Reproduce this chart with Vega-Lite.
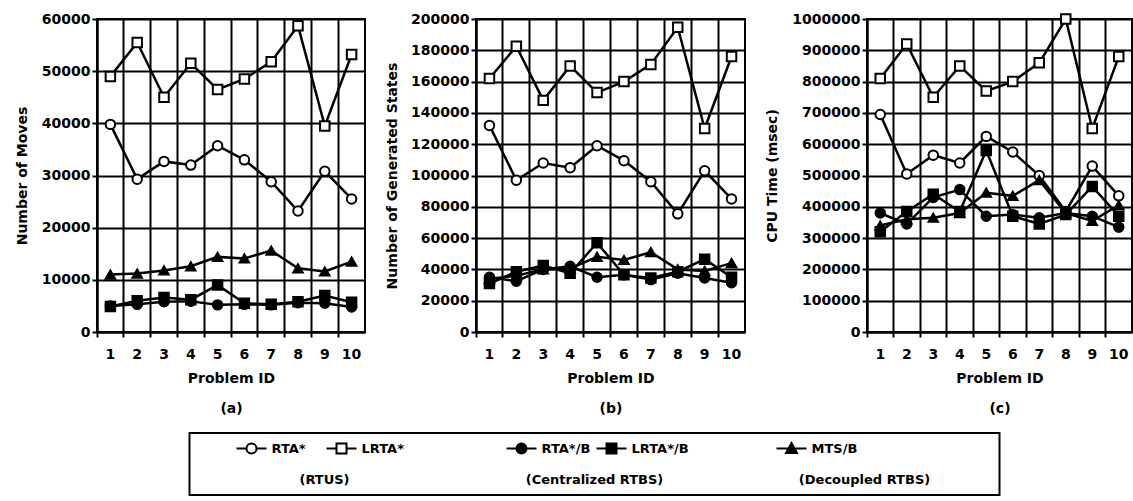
{
  "$schema": "https://vega.github.io/schema/vega-lite/v6.json",
  "padding": {"left": 14, "top": 9, "right": 3, "bottom": 3},
  "background": "white",
  "datasets": {
    "moves": [
      {"a": "RTA*", "p": 1, "v": 39800}, {"a": "RTA*", "p": 2, "v": 29300}, {"a": "RTA*", "p": 3, "v": 32700}, {"a": "RTA*", "p": 4, "v": 32000}, {"a": "RTA*", "p": 5, "v": 35700},
      {"a": "RTA*", "p": 6, "v": 33000}, {"a": "RTA*", "p": 7, "v": 28800}, {"a": "RTA*", "p": 8, "v": 23200}, {"a": "RTA*", "p": 9, "v": 30800}, {"a": "RTA*", "p": 10, "v": 25500},
      {"a": "LRTA*", "p": 1, "v": 49000}, {"a": "LRTA*", "p": 2, "v": 55500}, {"a": "LRTA*", "p": 3, "v": 45000}, {"a": "LRTA*", "p": 4, "v": 51500}, {"a": "LRTA*", "p": 5, "v": 46500},
      {"a": "LRTA*", "p": 6, "v": 48500}, {"a": "LRTA*", "p": 7, "v": 51800}, {"a": "LRTA*", "p": 8, "v": 58700}, {"a": "LRTA*", "p": 9, "v": 39500}, {"a": "LRTA*", "p": 10, "v": 53200},
      {"a": "RTA*/B", "p": 1, "v": 5000}, {"a": "RTA*/B", "p": 2, "v": 5300}, {"a": "RTA*/B", "p": 3, "v": 5800}, {"a": "RTA*/B", "p": 4, "v": 5900}, {"a": "RTA*/B", "p": 5, "v": 5200},
      {"a": "RTA*/B", "p": 6, "v": 5300}, {"a": "RTA*/B", "p": 7, "v": 5200}, {"a": "RTA*/B", "p": 8, "v": 5600}, {"a": "RTA*/B", "p": 9, "v": 5500}, {"a": "RTA*/B", "p": 10, "v": 4800},
      {"a": "LRTA*/B", "p": 1, "v": 4900}, {"a": "LRTA*/B", "p": 2, "v": 6000}, {"a": "LRTA*/B", "p": 3, "v": 6600}, {"a": "LRTA*/B", "p": 4, "v": 6200}, {"a": "LRTA*/B", "p": 5, "v": 9000},
      {"a": "LRTA*/B", "p": 6, "v": 5500}, {"a": "LRTA*/B", "p": 7, "v": 5300}, {"a": "LRTA*/B", "p": 8, "v": 5800}, {"a": "LRTA*/B", "p": 9, "v": 7000}, {"a": "LRTA*/B", "p": 10, "v": 5700},
      {"a": "MTS/B", "p": 1, "v": 11000}, {"a": "MTS/B", "p": 2, "v": 11200}, {"a": "MTS/B", "p": 3, "v": 11800}, {"a": "MTS/B", "p": 4, "v": 12600}, {"a": "MTS/B", "p": 5, "v": 14400},
      {"a": "MTS/B", "p": 6, "v": 14100}, {"a": "MTS/B", "p": 7, "v": 15600}, {"a": "MTS/B", "p": 8, "v": 12200}, {"a": "MTS/B", "p": 9, "v": 11600}, {"a": "MTS/B", "p": 10, "v": 13500}
    ],
    "states": [
      {"a": "RTA*", "p": 1, "v": 132000}, {"a": "RTA*", "p": 2, "v": 97000}, {"a": "RTA*", "p": 3, "v": 108000}, {"a": "RTA*", "p": 4, "v": 105000}, {"a": "RTA*", "p": 5, "v": 119000},
      {"a": "RTA*", "p": 6, "v": 109500}, {"a": "RTA*", "p": 7, "v": 96000}, {"a": "RTA*", "p": 8, "v": 75500}, {"a": "RTA*", "p": 9, "v": 103000}, {"a": "RTA*", "p": 10, "v": 85000},
      {"a": "LRTA*", "p": 1, "v": 162000}, {"a": "LRTA*", "p": 2, "v": 182600}, {"a": "LRTA*", "p": 3, "v": 148000}, {"a": "LRTA*", "p": 4, "v": 170000}, {"a": "LRTA*", "p": 5, "v": 153000},
      {"a": "LRTA*", "p": 6, "v": 160000}, {"a": "LRTA*", "p": 7, "v": 171000}, {"a": "LRTA*", "p": 8, "v": 194700}, {"a": "LRTA*", "p": 9, "v": 130000}, {"a": "LRTA*", "p": 10, "v": 176000},
      {"a": "RTA*/B", "p": 1, "v": 35000}, {"a": "RTA*/B", "p": 2, "v": 32500}, {"a": "RTA*/B", "p": 3, "v": 40000}, {"a": "RTA*/B", "p": 4, "v": 42000}, {"a": "RTA*/B", "p": 5, "v": 35000},
      {"a": "RTA*/B", "p": 6, "v": 36500}, {"a": "RTA*/B", "p": 7, "v": 33500}, {"a": "RTA*/B", "p": 8, "v": 37500}, {"a": "RTA*/B", "p": 9, "v": 34500}, {"a": "RTA*/B", "p": 10, "v": 31500},
      {"a": "LRTA*/B", "p": 1, "v": 31000}, {"a": "LRTA*/B", "p": 2, "v": 38500}, {"a": "LRTA*/B", "p": 3, "v": 42500}, {"a": "LRTA*/B", "p": 4, "v": 37500}, {"a": "LRTA*/B", "p": 5, "v": 57000},
      {"a": "LRTA*/B", "p": 6, "v": 36500}, {"a": "LRTA*/B", "p": 7, "v": 34500}, {"a": "LRTA*/B", "p": 8, "v": 38500}, {"a": "LRTA*/B", "p": 9, "v": 46500}, {"a": "LRTA*/B", "p": 10, "v": 35000},
      {"a": "MTS/B", "p": 1, "v": 34000}, {"a": "MTS/B", "p": 2, "v": 36000}, {"a": "MTS/B", "p": 3, "v": 40000}, {"a": "MTS/B", "p": 4, "v": 40500}, {"a": "MTS/B", "p": 5, "v": 48000},
      {"a": "MTS/B", "p": 6, "v": 46000}, {"a": "MTS/B", "p": 7, "v": 51000}, {"a": "MTS/B", "p": 8, "v": 40000}, {"a": "MTS/B", "p": 9, "v": 39000}, {"a": "MTS/B", "p": 10, "v": 44000}
    ],
    "cpu": [
      {"a": "RTA*", "p": 1, "v": 695000}, {"a": "RTA*", "p": 2, "v": 505000}, {"a": "RTA*", "p": 3, "v": 565000}, {"a": "RTA*", "p": 4, "v": 540000}, {"a": "RTA*", "p": 5, "v": 625000},
      {"a": "RTA*", "p": 6, "v": 575000}, {"a": "RTA*", "p": 7, "v": 500000}, {"a": "RTA*", "p": 8, "v": 385000}, {"a": "RTA*", "p": 9, "v": 530000}, {"a": "RTA*", "p": 10, "v": 435000},
      {"a": "LRTA*", "p": 1, "v": 810000}, {"a": "LRTA*", "p": 2, "v": 920000}, {"a": "LRTA*", "p": 3, "v": 750000}, {"a": "LRTA*", "p": 4, "v": 850000}, {"a": "LRTA*", "p": 5, "v": 770000},
      {"a": "LRTA*", "p": 6, "v": 800000}, {"a": "LRTA*", "p": 7, "v": 860000}, {"a": "LRTA*", "p": 8, "v": 1000000}, {"a": "LRTA*", "p": 9, "v": 650000}, {"a": "LRTA*", "p": 10, "v": 880000},
      {"a": "RTA*/B", "p": 1, "v": 380000}, {"a": "RTA*/B", "p": 2, "v": 345000}, {"a": "RTA*/B", "p": 3, "v": 430000}, {"a": "RTA*/B", "p": 4, "v": 455000}, {"a": "RTA*/B", "p": 5, "v": 370000},
      {"a": "RTA*/B", "p": 6, "v": 375000}, {"a": "RTA*/B", "p": 7, "v": 365000}, {"a": "RTA*/B", "p": 8, "v": 380000}, {"a": "RTA*/B", "p": 9, "v": 370000}, {"a": "RTA*/B", "p": 10, "v": 335000},
      {"a": "LRTA*/B", "p": 1, "v": 320000}, {"a": "LRTA*/B", "p": 2, "v": 385000}, {"a": "LRTA*/B", "p": 3, "v": 440000}, {"a": "LRTA*/B", "p": 4, "v": 385000}, {"a": "LRTA*/B", "p": 5, "v": 580000},
      {"a": "LRTA*/B", "p": 6, "v": 370000}, {"a": "LRTA*/B", "p": 7, "v": 345000}, {"a": "LRTA*/B", "p": 8, "v": 375000}, {"a": "LRTA*/B", "p": 9, "v": 465000}, {"a": "LRTA*/B", "p": 10, "v": 370000},
      {"a": "MTS/B", "p": 1, "v": 340000}, {"a": "MTS/B", "p": 2, "v": 360000}, {"a": "MTS/B", "p": 3, "v": 365000}, {"a": "MTS/B", "p": 4, "v": 380000}, {"a": "MTS/B", "p": 5, "v": 445000},
      {"a": "MTS/B", "p": 6, "v": 435000}, {"a": "MTS/B", "p": 7, "v": 485000}, {"a": "MTS/B", "p": 8, "v": 380000}, {"a": "MTS/B", "p": 9, "v": 355000}, {"a": "MTS/B", "p": 10, "v": 405000}
    ],
    "legend": [
      {"a": "RTA*", "g": "(RTUS)"},
      {"a": "LRTA*", "g": "(RTUS)"},
      {"a": "RTA*/B", "g": "(Centralized RTBS)"},
      {"a": "LRTA*/B", "g": "(Centralized RTBS)"},
      {"a": "MTS/B", "g": "(Decoupled RTBS)"}
    ]
  },
  "vconcat": [
    {
      "hconcat": [
        {
          "width": 268, "height": 313,
          "data": {"name": "moves"},
          "encoding": {
            "x": {"field": "p", "type": "ordinal", "bandPosition": 0.5, "scale": {"type": "band", "paddingInner": 0, "paddingOuter": 0},
                  "axis": {"title": ["Problem ID", "(a)"], "labelAngle": 0, "bandPosition": 0, "grid": true}},
            "y": {"field": "v", "type": "quantitative", "scale": {"domain": [0, 60000]},
                  "axis": {"title": "Number of Moves", "values": [0, 10000, 20000, 30000, 40000, 50000, 60000], "format": "d", "titlePadding": 12}}
          },
          "layer": [
            {"mark": {"type": "line", "color": "black", "strokeWidth": 2.5}, "encoding": {"detail": {"field": "a"}}},
            {"mark": {"type": "point", "filled": true, "stroke": "black", "strokeWidth": 2, "size": 90, "opacity": 1},
             "encoding": {
               "shape": {"field": "a", "scale": {"domain": ["RTA*", "LRTA*", "RTA*/B", "LRTA*/B", "MTS/B"], "range": ["circle", "square", "circle", "square", "triangle-up"]}, "legend": null},
               "fill": {"field": "a", "scale": {"domain": ["RTA*", "LRTA*", "RTA*/B", "LRTA*/B", "MTS/B"], "range": ["white", "white", "black", "black", "black"]}, "legend": null}
             }}
          ]
        },
        {
          "width": 269, "height": 313,
          "data": {"name": "states"},
          "encoding": {
            "x": {"field": "p", "type": "ordinal", "bandPosition": 0.5, "scale": {"type": "band", "paddingInner": 0, "paddingOuter": 0},
                  "axis": {"title": ["Problem ID", "(b)"], "labelAngle": 0, "bandPosition": 0, "grid": true}},
            "y": {"field": "v", "type": "quantitative", "scale": {"domain": [0, 200000]},
                  "axis": {"title": "Number of Generated States", "values": [0, 20000, 40000, 60000, 80000, 100000, 120000, 140000, 160000, 180000, 200000], "format": "d", "titlePadding": 11}}
          },
          "layer": [
            {"mark": {"type": "line", "color": "black", "strokeWidth": 2.5}, "encoding": {"detail": {"field": "a"}}},
            {"mark": {"type": "point", "filled": true, "stroke": "black", "strokeWidth": 2, "size": 90, "opacity": 1},
             "encoding": {
               "shape": {"field": "a", "scale": {"domain": ["RTA*", "LRTA*", "RTA*/B", "LRTA*/B", "MTS/B"], "range": ["circle", "square", "circle", "square", "triangle-up"]}, "legend": null},
               "fill": {"field": "a", "scale": {"domain": ["RTA*", "LRTA*", "RTA*/B", "LRTA*/B", "MTS/B"], "range": ["white", "white", "black", "black", "black"]}, "legend": null}
             }}
          ]
        },
        {
          "width": 265, "height": 313,
          "data": {"name": "cpu"},
          "encoding": {
            "x": {"field": "p", "type": "ordinal", "bandPosition": 0.5, "scale": {"type": "band", "paddingInner": 0, "paddingOuter": 0},
                  "axis": {"title": ["Problem ID", "(c)"], "labelAngle": 0, "bandPosition": 0, "grid": true}},
            "y": {"field": "v", "type": "quantitative", "scale": {"domain": [0, 1000000]},
                  "axis": {"title": "CPU Time (msec)", "values": [0, 100000, 200000, 300000, 400000, 500000, 600000, 700000, 800000, 900000, 1000000], "format": "d", "titlePadding": 12}}
          },
          "layer": [
            {"mark": {"type": "line", "color": "black", "strokeWidth": 2.5}, "encoding": {"detail": {"field": "a"}}},
            {"mark": {"type": "point", "filled": true, "stroke": "black", "strokeWidth": 2, "size": 90, "opacity": 1},
             "encoding": {
               "shape": {"field": "a", "scale": {"domain": ["RTA*", "LRTA*", "RTA*/B", "LRTA*/B", "MTS/B"], "range": ["circle", "square", "circle", "square", "triangle-up"]}, "legend": null},
               "fill": {"field": "a", "scale": {"domain": ["RTA*", "LRTA*", "RTA*/B", "LRTA*/B", "MTS/B"], "range": ["white", "white", "black", "black", "black"]}, "legend": null}
             }}
          ]
        }
      ],
      "spacing": 18,
      "resolve": {"scale": {"x": "independent", "y": "independent", "shape": "independent", "fill": "independent"}}
    },
    {
      "width": 810, "height": 62,
      "data": {"name": "legend"},
      "transform": [{"window": [{"op": "row_number", "as": "slot"}], "groupby": ["g"]}],
      "encoding": {
        "x": {"field": "g", "type": "nominal", "scale": {"type": "band", "domain": ["(RTUS)", "(Centralized RTBS)", "(Decoupled RTBS)"], "paddingInner": 0, "paddingOuter": 0}, "axis": null},
        "y": {"datum": "items", "type": "nominal", "scale": {"type": "point", "domain": ["items", "groups"], "padding": 0.5},
              "axis": {"orient": "right", "labels": false, "ticks": false, "domain": false, "grid": false, "title": "·", "titleColor": "white", "titlePadding": 26}}
      },
      "layer": [
        {
          "mark": {"type": "point", "filled": true, "stroke": "black", "strokeWidth": 2, "size": 100, "opacity": 1},
          "encoding": {
            "xOffset": {"field": "slot", "type": "ordinal", "scale": {"range": [45, 225]}},
            "shape": {"field": "a", "scale": {"domain": ["RTA*", "LRTA*", "RTA*/B", "LRTA*/B", "MTS/B"],
              "range": [
                "M-8.6,0H-6.6M-4.6,0H-2.6M-4.6,0A1,1,0,1,1,-6.6,0A1,1,0,1,1,-4.6,0Z",
                "M-8.6,0H-6.6M-4.6,0H-2.6M-6.6,-1H-4.6V1H-6.6Z",
                "M-8.6,0H-6.6M-4.6,0H-2.6M-4.6,0A1,1,0,1,1,-6.6,0A1,1,0,1,1,-4.6,0Z",
                "M-8.6,0H-6.6M-4.6,0H-2.6M-6.6,-1H-4.6V1H-6.6Z",
                "M-8.6,0H-2.6M-5.6,-1.1L-4.5,0.9H-6.7Z"
              ]}, "legend": null},
            "fill": {"field": "a", "scale": {"domain": ["RTA*", "LRTA*", "RTA*/B", "LRTA*/B", "MTS/B"], "range": ["white", "white", "black", "black", "black"]}, "legend": null}
          }
        },
        {
          "mark": {"type": "text", "align": "left", "baseline": "middle", "dx": -8, "fontSize": 13, "fontWeight": "bold", "font": "DejaVu Sans", "color": "black"},
          "encoding": {
            "xOffset": {"field": "slot", "type": "ordinal", "scale": {"range": [45, 225]}},
            "text": {"field": "a"}
          }
        },
        {
          "transform": [{"aggregate": [{"op": "count", "as": "n"}], "groupby": ["g"]}],
          "mark": {"type": "text", "align": "center", "baseline": "middle", "fontSize": 13, "fontWeight": "bold", "font": "DejaVu Sans", "color": "black"},
          "encoding": {
            "y": {"datum": "groups", "type": "nominal"},
            "text": {"field": "g"}
          }
        }
      ]
    }
  ],
  "spacing": 16,
  "center": true,
  "resolve": {"scale": {"x": "independent", "y": "independent", "shape": "independent", "fill": "independent"}},
  "config": {
    "font": "DejaVu Sans",
    "view": {"stroke": "black", "strokeWidth": 2},
    "axis": {
      "labelFont": "DejaVu Sans", "labelFontSize": 14, "labelFontWeight": "bold", "labelColor": "black",
      "titleFont": "DejaVu Sans", "titleFontSize": 14, "titleFontWeight": "bold", "titleColor": "black",
      "domainColor": "black", "domainWidth": 2, "tickColor": "black", "tickWidth": 2, "tickSize": 5,
      "gridColor": "black", "gridWidth": 2, "gridOpacity": 1, "labelPadding": 2
    },
    "axisX": {"titleLineHeight": 30, "labelPadding": 10, "titlePadding": 10}
  }
}
